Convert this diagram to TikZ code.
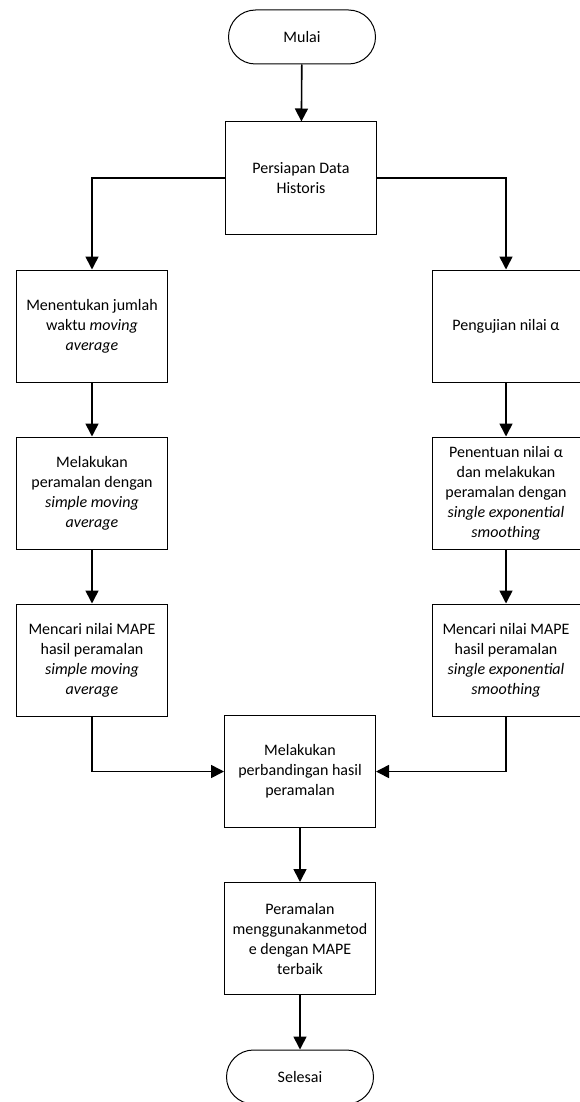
\documentclass[tikz,border=0pt]{standalone}
\usepackage{fontspec}
\setmainfont{Carlito}
\usetikzlibrary{arrows.meta,positioning}

\begin{document}
\begin{tikzpicture}[x=1pt, y=-1pt, every node/.style={font=\fontsize{16}{20}\selectfont}]
  \tikzset{
    proses/.style={draw, line width=1pt, minimum width=151pt, minimum height=112pt, align=center, inner sep=2pt},
    terminal/.style={draw, line width=1pt, rounded corners=27pt, minimum width=147pt, minimum height=54pt},
    alur/.style={line width=1.6pt, -{Triangle[length=13pt,width=13pt]}}
  }
  \useasboundingbox (0,0) rectangle (580,1102);

  \node[terminal] (mulai)     at (302,37)    {Mulai};
  \node[proses]   (persiapan) at (301,178)   {Persiapan Data\\Historis};

  \node[proses] (waktu)   at (92,326)  {Menentukan jumlah\\waktu \textit{moving}\\\textit{average}};
  \node[proses] (sma)     at (92,493)  {Melakukan\\peramalan dengan\\\textit{simple moving}\\\textit{average}};
  \node[proses] (mapesma) at (92,660)  {Mencari nilai MAPE\\hasil peramalan\\\textit{simple moving}\\\textit{average}};

  \node[proses, minimum width=148pt] (uji)     at (506,326) {Pengujian nilai α};
  \node[proses, minimum width=148pt] (ses)     at (506,493) {Penentuan nilai α\\dan melakukan\\peramalan dengan\\\textit{single exponential}\\\textit{smoothing}};
  \node[proses, minimum width=148pt] (mapeses) at (506,660) {Mencari nilai MAPE\\hasil peramalan\\\textit{single exponential}\\\textit{smoothing}};

  \node[proses]   (banding) at (300,771.5) {Melakukan\\perbandingan hasil\\peramalan};
  \node[proses]   (terbaik) at (300,938.5) {Peramalan\\menggunakanmetod\\e dengan MAPE\\terbaik};
  \node[terminal] (selesai) at (300,1077)  {Selesai};

  % alur utama
  \draw[alur] (mulai) -- (persiapan);
  \draw[alur] (persiapan.west) -| (waktu);
  \draw[alur] (persiapan.east) -| (uji);
  \draw[alur] (waktu) -- (sma);
  \draw[alur] (sma) -- (mapesma);
  \draw[alur] (uji) -- (ses);
  \draw[alur] (ses) -- (mapeses);
  \draw[alur] (mapesma) |- (banding);
  \draw[alur] (mapeses) |- (banding);
  \draw[alur] (banding) -- (terbaik);
  \draw[alur] (terbaik) -- (selesai);
\end{tikzpicture}
\end{document}
